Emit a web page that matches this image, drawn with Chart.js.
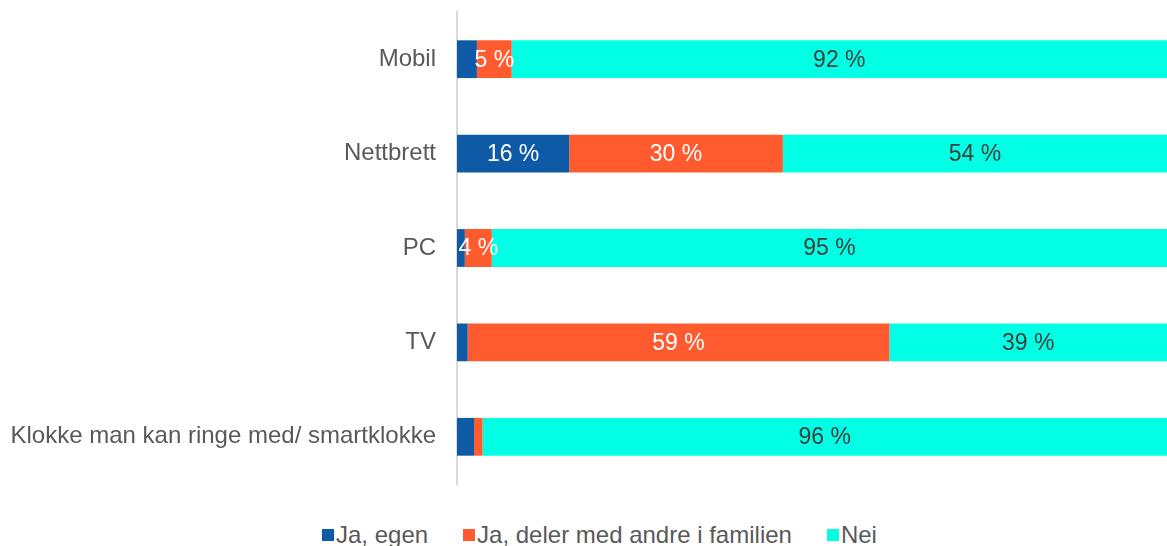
<!DOCTYPE html>
<html>
<head>
<meta charset="utf-8">
<script src="https://cdn.jsdelivr.net/npm/chart.js@4"></script>
<style>
  body { margin: 0; background: #fff; }
  #wrap { position: relative; width: 1167px; height: 546px; }
  #legend {
    position: absolute; left: 322px; top: 523px;
    display: flex; align-items: center;
    font: 24px "Liberation Sans", Arial, sans-serif; color: #595959; line-height: 24px;
  }
  .item { display: flex; align-items: center; margin-right: 35px; }
  .box { width: 12px; height: 12px; margin-right: 2px; }
</style>
</head>
<body>
<div id="wrap">
  <canvas id="chart" width="1167" height="500"></canvas>
  <div id="legend"></div>
</div>
<script>
// Categories and series
const categories = ['Mobil', 'Nettbrett', 'PC', 'TV', 'Klokke man kan ringe med/ smartklokke'];
const seriesNames = ['Ja, egen', 'Ja, deler med andre i familien', 'Nei'];

// Values in percent
const jaEgen = [2.8, 15.8, 1.1, 1.5, 2.4];
const jaDeler = [4.9, 30.1, 3.8, 59.4, 1.2];
const nei = [92.3, 54.1, 95.1, 39.1, 96.4];

const seriesColors = ['#0e5aa7', '#ff5b2f', '#00ffe5'];
const labelColors = ['#ffffff', '#ffffff', '#404040'];

// Draw value labels centered in each segment
const segmentLabels = {
    id: 'segmentLabels',
    afterDatasetsDraw(chart) {
        const ctx = chart.ctx;
        ctx.save();
        ctx.font = '23px "Liberation Sans", Arial, sans-serif';
        ctx.textAlign = 'center';
        ctx.textBaseline = 'middle';
        chart.data.datasets.forEach((ds, i) => {
            const meta = chart.getDatasetMeta(i);
            meta.data.forEach((bar, j) => {
                const v = Math.round(ds.data[j]);
                if (v < 4) return;
                ctx.fillStyle = labelColors[i];
                ctx.fillText(v + ' %', (bar.x + bar.base) / 2, bar.y + 1);
            });
        });
        ctx.restore();
    }
};

const allSeries = [jaEgen, jaDeler, nei];

new Chart(document.getElementById('chart'), {
    type: 'bar',
    data: {
        labels: categories,
        datasets: allSeries.map((d, i) => ({
            label: seriesNames[i],
            data: d,
            backgroundColor: seriesColors[i],
            barPercentage: 0.4,
            categoryPercentage: 1
        }))
    },
    options: {
        indexAxis: 'y',
        responsive: false,
        animation: false,
        layout: { padding: { top: 12, bottom: 16, left: 0, right: 0 } },
        plugins: {
            legend: { display: false },
            tooltip: { enabled: false }
        },
        scales: {
            x: { stacked: true, min: 0, max: 100, display: false },
            y: {
                stacked: true,
                grid: { display: false, drawTicks: false },
                border: { display: true, color: '#d9d9d9', width: 2 },
                ticks: {
                    color: '#595959',
                    padding: 21,
                    font: { size: 24, family: '"Liberation Sans", Arial, sans-serif' }
                },
                afterFit(scale) {
                    scale.width = 457;
                    scale.paddingTop = 0;
                    scale.paddingBottom = 0;
                }
            }
        }
    },
    plugins: [segmentLabels]
});

// Legend
const legend = document.getElementById('legend');
seriesNames.forEach((name, i) => {
    const item = document.createElement('div');
    item.className = 'item';
    item.innerHTML = `<span class="box" style="background:${seriesColors[i]}"></span><span>${name}</span>`;
    legend.appendChild(item);
});
</script>
</body>
</html>
